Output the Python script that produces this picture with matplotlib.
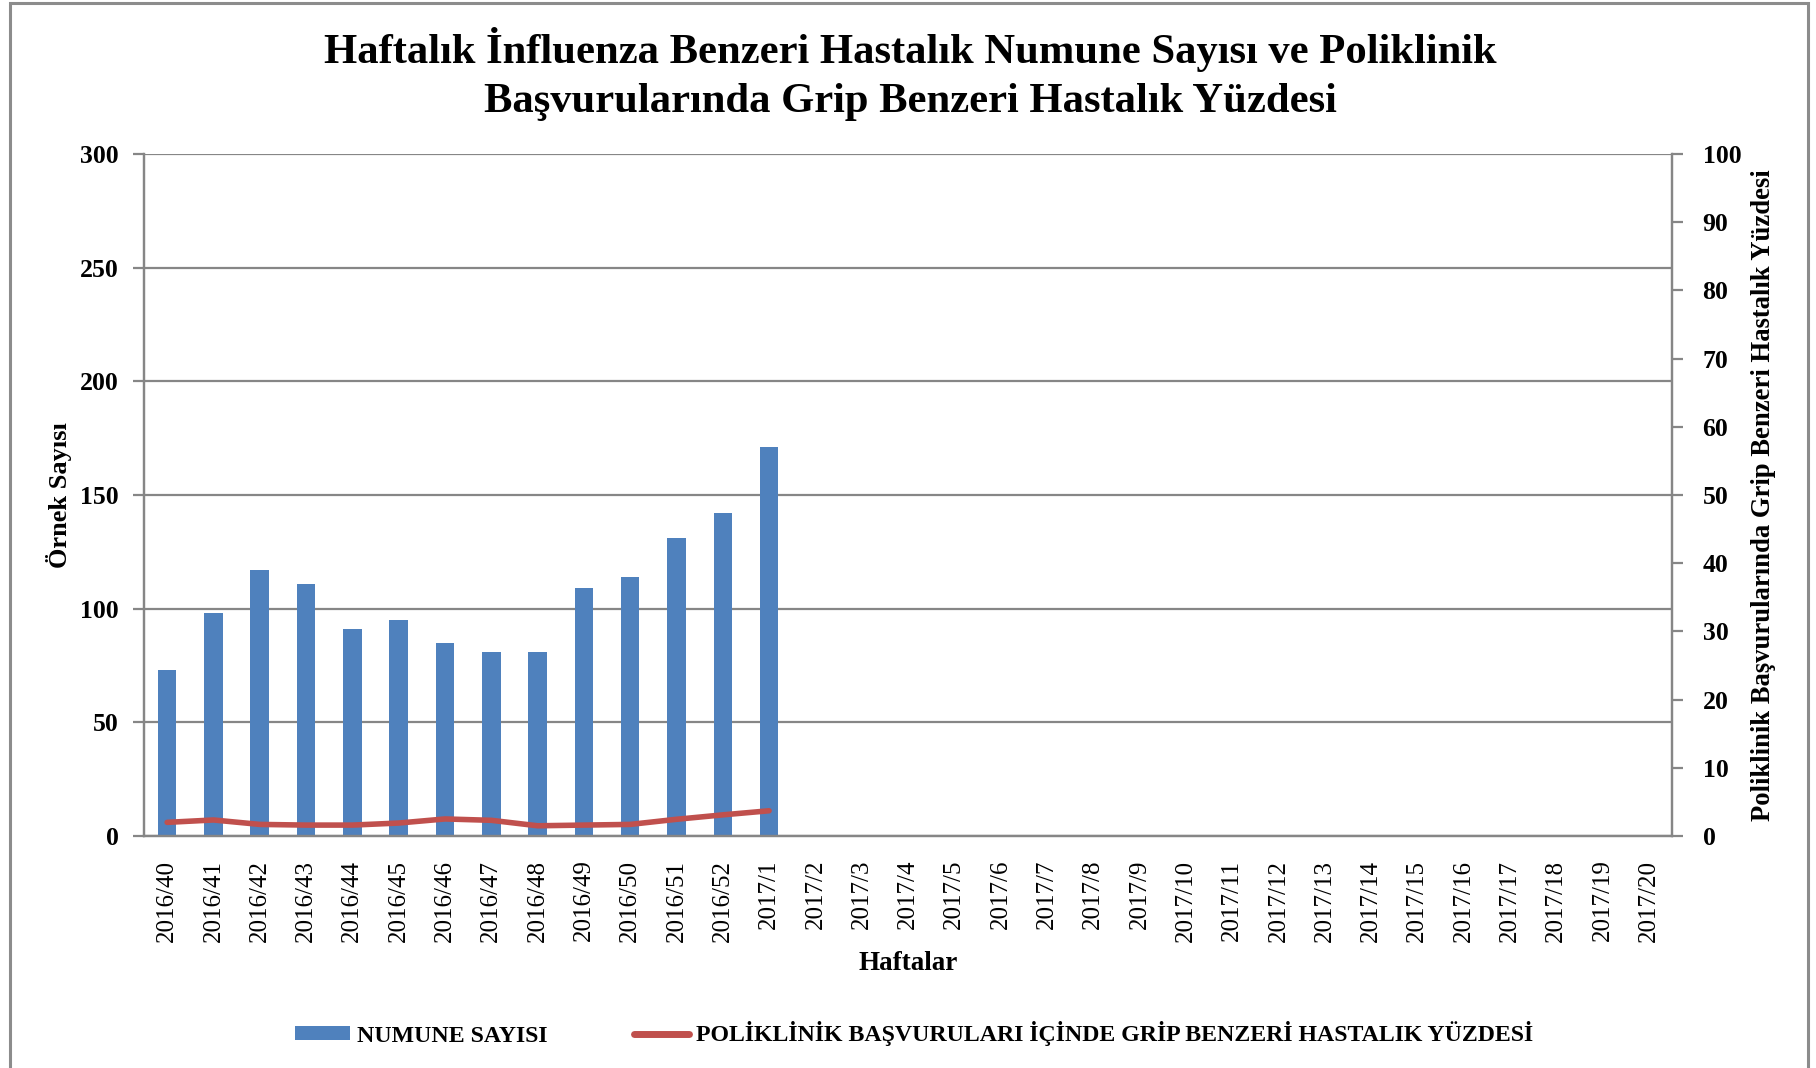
import matplotlib
matplotlib.use("Agg")
import matplotlib.pyplot as plt
from matplotlib.patches import Rectangle
from matplotlib.lines import Line2D
from matplotlib.patches import Patch

weeks = ["2016/40", "2016/41", "2016/42", "2016/43", "2016/44", "2016/45", "2016/46",
         "2016/47", "2016/48", "2016/49", "2016/50", "2016/51", "2016/52",
         "2017/1", "2017/2", "2017/3", "2017/4", "2017/5", "2017/6", "2017/7",
         "2017/8", "2017/9", "2017/10", "2017/11", "2017/12", "2017/13", "2017/14",
         "2017/15", "2017/16", "2017/17", "2017/18", "2017/19", "2017/20"]
numune = [73, 98, 117, 111, 91, 95, 85, 81, 81, 109, 114, 131, 142, 171]
gbh_pct = [2.0, 2.35, 1.7, 1.6, 1.6, 1.9, 2.5, 2.3, 1.5, 1.6, 1.7, 2.45, 3.1, 3.7]
left_ticks = [0, 50, 100, 150, 200, 250, 300]
right_ticks = [0, 10, 20, 30, 40, 50, 60, 70, 80, 90, 100]

SERIF = ["Liberation Serif", "DejaVu Serif"]
plt.rcParams['font.family'] = SERIF

W, H = 1816, 1068
fig = plt.figure(figsize=(W / 100, H / 100), dpi=100)
L, R, T, B = 144, 1672, 154, 836
ax = fig.add_axes([L / W, 1 - B / H, (R - L) / W, (B - T) / H])
ax2 = ax.twinx()

grid_c = "#868686"
x = list(range(len(weeks)))
ax.bar(x[:len(numune)], numune, width=0.4, color="#4F81BD", zorder=2)
ax.set_xlim(-0.5, len(weeks) - 0.5)
ax.set_ylim(0, 300)
ax.set_yticks(left_ticks)
ax.set_yticklabels([str(v) for v in left_ticks], fontsize=18.5, fontweight="bold")
ax.yaxis.grid(True, color=grid_c, linewidth=1.6, zorder=0)
ax.set_axisbelow(True)
ax.set_xticks(x)
ax.set_xticklabels(weeks, rotation=90, fontsize=18)
ax.tick_params(axis="x", length=0, pad=17)
ax.tick_params(axis="y", length=8, width=1.6, color=grid_c, pad=10)

ax2.plot(x[:len(gbh_pct)], gbh_pct, color="#C0504D", linewidth=4, solid_capstyle="round", zorder=3)
ax2.set_ylim(0, 100)
ax2.set_yticks(right_ticks)
ax2.set_yticklabels([str(v) for v in right_ticks], fontsize=18.5, fontweight="bold")
ax2.tick_params(axis="y", length=8, width=1.6, color=grid_c, pad=14)

for a in (ax, ax2):
    for s in a.spines.values():
        s.set_color(grid_c)
        s.set_linewidth(1.6)
    a.spines["top"].set_visible(False)

fig.text(910 / W, 1 - 50 / H, "Haftalık İnfluenza Benzeri Hastalık Numune Sayısı ve Poliklinik",
         ha="center", va="center", fontsize=30.7, fontweight="bold")
fig.text(910 / W, 1 - 102 / H, "Başvurularında Grip Benzeri Hastalık Yüzdesi",
         ha="center", va="center", fontsize=30.7, fontweight="bold")

fig.text(59 / W, 1 - 495 / H, "Örnek Sayısı", rotation=90, ha="center", va="center",
         fontsize=19, fontweight="bold")
fig.text(1764 / W, 1 - 495 / H, "Poliklinik Başvurularında Grip Benzeri Hastalık Yüzdesi",
         rotation=90, ha="center", va="center", fontsize=19.2, fontweight="bold")
fig.text(908 / W, 1 - 963 / H, "Haftalar", ha="center", va="center",
         fontsize=19.5, fontweight="bold")

handles = [Patch(facecolor="#4F81BD", edgecolor="none"),
           Line2D([0], [0], color="#C0504D", linewidth=5, solid_capstyle="round")]
fig.legend(handles, ["NUMUNE SAYISI", "POLİKLİNİK BAŞVURULARI İÇİNDE GRİP BENZERİ HASTALIK YÜZDESİ"],
           loc="center", bbox_to_anchor=(914 / W, 1 - 1034 / H), ncol=2, frameon=False,
           prop={"family": SERIF, "size": 17.2, "weight": "bold"},
           handlelength=2.3, handleheight=0.5, handletextpad=0.3, columnspacing=3.6)

fig.add_artist(Rectangle((10 / W, -0.01), (1808 - 10) / W, 1.0 - 3 / H + 0.01,
                         transform=fig.transFigure, fill=False, edgecolor="#8c8c8c",
                         linewidth=2.2))

fig.savefig("out.png", dpi=100)
